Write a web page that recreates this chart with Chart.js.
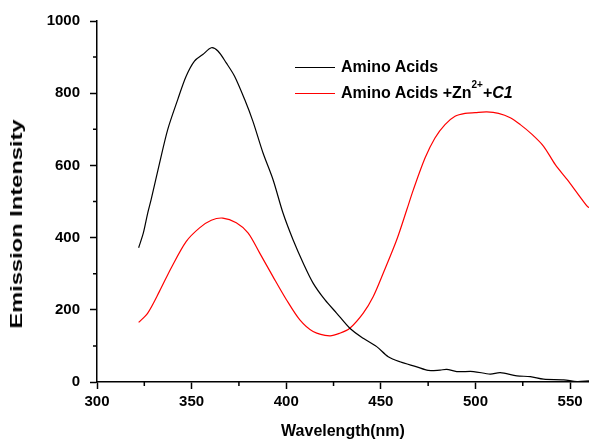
<!DOCTYPE html>
<html>
<head>
<meta charset="utf-8">
<script src="https://cdn.jsdelivr.net/npm/chart.js@4/dist/chart.umd.min.js"></script>
<style>
  html, body { margin: 0; padding: 0; background: #fff; }
  #wrap { position: relative; width: 589px; height: 445px; }
  #legend { position: absolute; left: 295px; top: 54px; font: bold 16px "Liberation Sans", Arial, sans-serif; color: #000; }
  #legend .row { display: flex; align-items: center; height: 26px; }
  #legend .swatch { display: inline-block; width: 40px; height: 0; border-top: 1px solid; margin-right: 6px; }
  #legend sup { font-size: 10px; vertical-align: baseline; position: relative; top: -8px; line-height: 0; }
  #ytitle {
    position: absolute; left: 17px; top: 224px;
    font: bold 16px "Liberation Sans", Arial, sans-serif; color: #000; white-space: nowrap;
    transform: translate(-50%, -50%) rotate(-90deg) scale(1.48, 1);
  }
</style>
</head>
<body>
<div id="wrap">
  <canvas id="chart" width="589" height="445"></canvas>
  <div id="ytitle">Emission Intensity</div>
  <div id="legend">
    <div class="row"><span class="swatch" style="border-color:#000"></span>Amino Acids</div>
    <div class="row"><span class="swatch" style="border-color:#ff0000"></span>Amino Acids +Zn<sup>2+</sup>+<i>C1</i></div>
  </div>
</div>
<script>
// wavelength (nm) / intensity
const aaWave = [322, 324.5, 326.8, 328.6, 333, 337.4, 342.7, 347.1, 351.5, 355.9, 360.4, 363.9, 368.3, 372.7, 378,
    382.4, 387.7, 393, 398.3, 403.6, 409, 414.2, 420.4, 426.6, 433.6, 440.7, 447.8, 453.9, 460.1, 469, 475,
    481.3, 484.8, 490.1, 499, 507.8, 513.1, 521.9, 529, 536, 546.6, 553.7, 560];
const aaVals = [372, 413, 468, 505, 605, 700, 783, 847, 889, 907, 926, 917, 884, 847, 783,
    722, 635, 561, 468, 394, 329, 274, 228, 191, 149, 121, 98, 70, 56, 42, 32,
    33, 35, 29, 29, 22, 26, 17, 15, 8, 6, 1, 3];

const znWave = [322, 326.8, 333, 339.2, 347.1, 354.2, 360.4, 366.5, 373.6, 379.8, 386, 393, 400.1, 407.2, 414.2,
    423, 428.3, 433.6, 440.7, 446, 451.3, 458.4, 463.7, 467.2, 473.4, 478.6, 483.9, 489.2, 494.5, 499.8,
    506, 512.2, 518.4, 523.7, 529.9, 536, 542.2, 548.4, 553.7, 559, 560];
const znVals = [165, 191, 251, 316, 389, 427, 448, 454, 441, 413, 357, 292, 228, 172, 140,
    128, 135, 149, 191, 237, 302, 394, 477, 533, 621, 676, 713, 736, 744, 746,
    748, 744, 732, 713, 686, 653, 602, 561, 524, 487, 483];

const xMin = 300, xMax = 560, xMajor = 50, xMinor = 25;
const yMin = 0, yMax = 1000, yMajor = 200, yMinor = 100;

const FONT = '"Liberation Sans", Arial, sans-serif';
const toPoints = (xs, ys) => xs.map((x, i) => ({ x: x, y: ys[i] }));

// short outward ticks for the unlabeled minor steps
const minorTicks = {
    id: 'minorTicks',
    afterDraw(chart) {
        const c = chart.ctx, xs = chart.scales.x, ys = chart.scales.y;
        c.save();
        c.strokeStyle = '#000';
        c.lineWidth = 1.5;
        c.beginPath();
        for (let v = xMin + xMinor; v < xMax; v += xMajor) {
            const px = xs.getPixelForValue(v);
            c.moveTo(px, xs.top);
            c.lineTo(px, xs.top + 4);
        }
        for (let v = yMin + yMinor; v < yMax; v += yMajor) {
            const py = ys.getPixelForValue(v);
            c.moveTo(ys.right, py);
            c.lineTo(ys.right - 4, py);
        }
        c.stroke();
        c.restore();
    }
};

new Chart(document.getElementById('chart'), {
    type: 'line',
    data: {
        datasets: [{
            label: 'Amino Acids',
            data: toPoints(aaWave, aaVals),
            borderColor: '#000',
            borderWidth: 1.2,
            pointRadius: 0,
            tension: 0.3
        }, {
            label: 'Amino Acids +Zn2+ +C1',
            data: toPoints(znWave, znVals),
            borderColor: '#ff0000',
            borderWidth: 1.2,
            pointRadius: 0,
            tension: 0.3
        }]
    },
    options: {
        responsive: false,
        animation: false,
        layout: { padding: { top: 21, right: 0, left: 0, bottom: 0 } },
        plugins: { legend: { display: false }, tooltip: { enabled: false } },
        scales: {
            x: {
                type: 'linear',
                min: xMin,
                max: xMax,
                afterFit: (s) => { s.height = 63; },
                border: { color: '#000', width: 1.5 },
                grid: { drawOnChartArea: false, tickLength: 7, tickWidth: 1.5, tickColor: '#000' },
                ticks: {
                    stepSize: xMajor,
                    includeBounds: false,
                    color: '#000',
                    padding: 4,
                    maxRotation: 0,
                    font: { family: FONT, size: 15, weight: 'bold' }
                },
                title: {
                    display: true,
                    text: 'Wavelength(nm)',
                    color: '#000',
                    padding: { top: 4, bottom: 4 },
                    font: { family: FONT, size: 16, weight: 'bold' }
                }
            },
            y: {
                min: yMin,
                max: yMax,
                afterFit: (s) => { s.width = 97; },
                border: { color: '#000', width: 1.5 },
                grid: { drawOnChartArea: false, tickLength: 7, tickWidth: 1.5, tickColor: '#000' },
                ticks: {
                    stepSize: yMajor,
                    color: '#000',
                    padding: 10,
                    font: { family: FONT, size: 15, weight: 'bold' },
                    callback: (v) => String(v)
                }
            }
        }
    },
    plugins: [minorTicks]
});
</script>
</body>
</html>
